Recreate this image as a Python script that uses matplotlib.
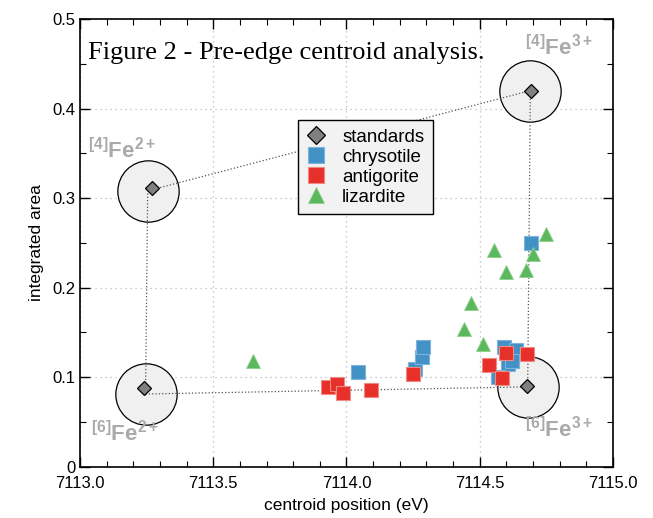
import numpy as np
import matplotlib
matplotlib.use("Agg")
import matplotlib.pyplot as plt
from matplotlib.ticker import MultipleLocator

plt.rcParams['font.family'] = ['Liberation Sans', 'DejaVu Sans']
plt.rcParams['mathtext.fontset'] = 'custom'
plt.rcParams['mathtext.rm'] = 'Liberation Sans:bold'
plt.rcParams['mathtext.it'] = 'Liberation Sans:bold'
plt.rcParams['mathtext.bf'] = 'Liberation Sans:bold'

# standards (diamonds) and the circle centres they sit in
std_x = [7113.241, 7113.269, 7114.691, 7114.676]
std_y = [0.088, 0.311, 0.420, 0.0895]
circ_x = [7113.246, 7113.254, 7114.690, 7114.680]
circ_y = [0.081, 0.308, 0.420, 0.089]
std_names = [r'$^{[6]}$Fe$^{2+}$', r'$^{[4]}$Fe$^{2+}$', r'$^{[4]}$Fe$^{3+}$', r'$^{[6]}$Fe$^{3+}$']
name_x = [7113.04, 7113.03, 7114.67, 7114.67]
name_y = [0.028, 0.345, 0.460, 0.033]

chry_x = [7114.044, 7114.257, 7114.282, 7114.288, 7114.592, 7114.636, 7114.607, 7114.570, 7114.691, 7114.620]
chry_y = [0.106, 0.109, 0.122, 0.134, 0.134, 0.130, 0.115, 0.100, 0.250, 0.118]

anti_x = [7113.932, 7113.963, 7113.988, 7114.092, 7114.251, 7114.598, 7114.676, 7114.536, 7114.582]
anti_y = [0.0887, 0.0923, 0.0816, 0.0850, 0.1037, 0.127, 0.1253, 0.1137, 0.0992]

liz_x = [7113.650, 7114.555, 7114.747, 7114.700, 7114.597, 7114.674, 7114.466, 7114.441, 7114.511]
liz_y = [0.118, 0.2416, 0.2595, 0.237, 0.217, 0.220, 0.183, 0.154, 0.1365]

fig = plt.figure(figsize=(6.53, 5.18), dpi=100)
ax = fig.add_axes([0.1225, 0.0994, 0.8162, 0.8639])

# quadrilateral joining the standards
order = [0, 3, 2, 1, 0]
ax.plot([circ_x[i] for i in order], [circ_y[i] for i in order], ls=':', lw=0.9,
        color='#555555', zorder=3)

ax.scatter(circ_x, circ_y, s=1950, facecolor='#f0f0f0', edgecolor='black',
           linewidths=0.9, zorder=2)

ax.plot(std_x, std_y, 'D', ms=7.5, mfc='#808080', mec='black', mew=0.9,
        ls='none', zorder=6, label='standards')
ax.plot(chry_x, chry_y, 's', ms=10, mfc='#4292c6', mec='#7fb3dc', mew=0.8,
        ls='none', zorder=4, label='chrysotile')
ax.plot(anti_x, anti_y, 's', ms=10, mfc='#e8302a', mec='#f08a85', mew=0.8,
        ls='none', zorder=5, label='antigorite')
ax.plot(liz_x, liz_y, '^', ms=9.5, mfc='#5cb85c', mec='#8fd08f', mew=0.6,
        ls='none', zorder=5, label='lizardite')

for nx, ny, nm in zip(name_x, name_y, std_names):
    ax.text(nx, ny, nm, fontsize=16, color='#aaaaaa', fontweight='bold', zorder=7)

ax.text(0.015, 0.925, 'Figure 2 - Pre-edge centroid analysis.', transform=ax.transAxes,
        fontsize=19, family='Liberation Serif', va='center', ha='left')

ax.set_xlim(7113.0, 7115.0)
ax.set_ylim(0, 0.5)
ax.xaxis.set_minor_locator(MultipleLocator(0.1))
ax.yaxis.set_minor_locator(MultipleLocator(0.05))
ax.set_xticks([7113.0, 7113.5, 7114.0, 7114.5, 7115.0])
ax.set_xticklabels(['7113.0', '7113.5', '7114.0', '7114.5', '7115.0'])
ax.set_yticks([0, 0.1, 0.2, 0.3, 0.4, 0.5])
ax.set_yticklabels(['0', '0.1', '0.2', '0.3', '0.4', '0.5'])
ax.tick_params(which='both', direction='in', top=True, right=True, labelsize=12)
ax.tick_params(which='major', length=7, width=1)
ax.tick_params(which='minor', length=4, width=0.8)
ax.tick_params(axis='x', pad=7)
ax.tick_params(axis='y', pad=3)
ax.grid(True, which='major', ls=(0, (1, 3)), color='#bbbbbb', lw=0.9)
ax.set_axisbelow(True)
for sp in ax.spines.values():
    sp.set_linewidth(1.2)

ax.set_xlabel('centroid position (eV)', fontsize=12.5, labelpad=5)
ax.set_ylabel('integrated area', fontsize=12.5, labelpad=6)

leg = ax.legend(loc='upper left', bbox_to_anchor=(0.409, 0.774), borderaxespad=0,
                fontsize=13.5, labelspacing=0.15, handlelength=1.0, handletextpad=0.9,
                borderpad=0.45, fancybox=False, framealpha=1, numpoints=1,
                markerscale=1.2)
leg.get_frame().set_facecolor('#f2f2f2')
leg.get_frame().set_edgecolor('black')
leg.get_frame().set_linewidth(1.0)
leg.set_zorder(10)

fig.savefig('out.png', dpi=100)
